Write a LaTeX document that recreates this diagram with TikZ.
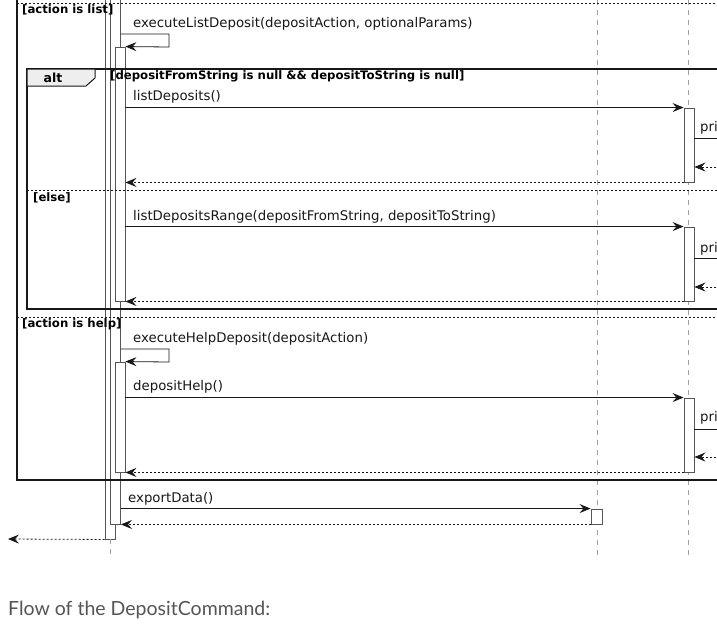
\documentclass[tikz,border=0pt]{standalone}
\usepackage{fontspec}
\newfontfamily\umlfont{DejaVu Sans}
\newfontfamily\notefont{Lato}
\usetikzlibrary{arrows.meta}

\definecolor{umlline}{HTML}{181818}
\definecolor{umlbar}{HTML}{555555}
\definecolor{umllife}{HTML}{A0A0A0}
\definecolor{umltab}{HTML}{EEEEEE}
\definecolor{notegray}{HTML}{555555}

\tikzset{
  actbar/.style={draw=umlbar, fill=white, line width=0.9pt, minimum width=10pt, inner sep=0pt},
  lifeline/.style={umllife, line width=0.8pt, dash pattern=on 5pt off 5pt},
  msg/.style={umlline, line width=0.8pt, -{Stealth[length=11pt,width=9pt,inset=4pt]}},
  ret/.style={msg, dash pattern=on 2pt off 2pt},
  plainmsg/.style={umlline, line width=0.8pt},
  frameline/.style={umlline, line width=1.4pt},
  guardline/.style={umlline, line width=0.7pt, dash pattern=on 2pt off 2pt},
  msglabel/.style={anchor=west, inner sep=0pt, text=umlline, font=\umlfont\fontsize{13.3}{15}\selectfont},
  guard/.style={anchor=west, inner sep=0pt, font=\umlfont\bfseries\fontsize{11.7}{14}\selectfont},
}

\begin{document}
\begin{tikzpicture}[x=1pt, y=-1pt]
    \useasboundingbox[fill=white] (0,0) rectangle (717,641);

    % lifelines
    \coordinate (exportTop) at (597,0);
    \coordinate (exportEnd) at (597,557);
    \coordinate (listTop) at (688,0);
    \coordinate (listEnd) at (688,557);
    \coordinate (mainEnd) at (110,559);
    \draw[lifeline] (exportTop) -- (exportEnd);
    \draw[lifeline] (listTop) -- (listEnd);

    % activation bars
    \node[actbar, minimum height=549pt] (barA) at (110,264.5) {};
    \node[actbar, minimum height=534pt] (barB) at (115.5,257) {};
    \node[actbar, minimum height=254pt] (barC) at (120,174) {};
    \node[actbar, minimum height=110pt] (barD) at (120,417) {};
    \node[actbar, minimum height=74pt] (barE) at (689,145) {};
    \node[actbar, minimum height=74pt] (barF) at (689,264) {};
    \node[actbar, minimum height=74pt] (barG) at (689,435) {};
    \node[actbar, minimum width=11pt, minimum height=15pt] (barH) at (596.5,516.5) {};
    \draw[lifeline] (barA.south) -- (mainEnd);

    % frames
    \draw[frameline] (17,-5) -- (17,480) -- (720,480);
    \draw[guardline] (17,3) -- (720,3);
    \draw[frameline] (720,69) -- (27,69) -- (27,309) -- (720,309);
    \filldraw[fill=umltab, draw=umlline, line width=1pt] (27,69) -- (95,69) -- (95,78) -- (86,86) -- (27,86) -- cycle;
    \node[font=\umlfont\bfseries\fontsize{12.5}{14}\selectfont] (altTag) at (53,77.5) {alt};
    \draw[guardline] (27,190) -- (720,190);
    \draw[guardline] (17,317.5) -- (720,317.5);

    \node[guard] (listGuard) at (22,10) {[action is list]};
    \node[guard] (altGuard) at (110,76) {[depositFromString is null \&\& depositToString is null]};
    \node[guard] (elseGuard) at (33,198) {[else]};
    \node[guard] (helpGuard) at (22,324) {[action is help]};

    % action is list
    \node[msglabel] (execList) at (133,24) {executeListDeposit(depositAction, optionalParams)};
    \draw[msg] (barB.east |- 0,34) -- (169,34) -- (169,47) -- (barC.north east);

    \node[msglabel] (listDeps) at (133,97) {listDeposits()};
    \draw[msg] (barC.east |- barE.north) -- (barE.north west);
    \coordinate (priE) at (720,138);
    \coordinate (backE) at (720,167);
    \node[msglabel] (priLabelE) at (700,128) {pri};
    \draw[plainmsg] (barE.east |- priE) -- (priE);
    \draw[ret] (backE) -- (barE.east |- backE);
    \draw[ret] (barE.south west) -- (barC.east |- barE.south);

    \node[msglabel] (listRange) at (133,217) {listDepositsRange(depositFromString, depositToString)};
    \draw[msg] (barC.east |- barF.north) -- (barF.north west);
    \coordinate (priF) at (720,258);
    \coordinate (backF) at (720,287);
    \node[msglabel] (priLabelF) at (700,249) {pri};
    \draw[plainmsg] (barF.east |- priF) -- (priF);
    \draw[ret] (backF) -- (barF.east |- backF);
    \draw[ret] (barF.south west) -- (barC.south east);

    % action is help
    \node[msglabel] (execHelp) at (133,339) {executeHelpDeposit(depositAction)};
    \draw[msg] (barB.east |- 0,349) -- (169,349) -- (169,362) -- (barD.north east);

    \node[msglabel] (depHelp) at (133,387) {depositHelp()};
    \draw[msg] (barD.east |- barG.north) -- (barG.north west);
    \coordinate (priG) at (720,429);
    \coordinate (backG) at (720,457);
    \node[msglabel] (priLabelG) at (700,418) {pri};
    \draw[plainmsg] (barG.east |- priG) -- (priG);
    \draw[ret] (backG) -- (barG.east |- backG);
    \draw[ret] (barG.south west) -- (barD.south east);

    % export
    \node[msglabel] (exportMsg) at (128,499) {exportData()};
    \draw[msg] (barB.east |- barH.north) -- (barH.north west);
    \draw[ret] (barH.south west) -- (barB.east |- barH.south);
    \coordinate (exitEnd) at (8,539);
    \draw[ret] (barA.south west) -- (exitEnd);

    \node[anchor=west, inner sep=0pt, text=notegray, font=\notefont\fontsize{19.5}{22}\selectfont] (caption) at (8,610) {Flow of the DepositCommand:};
\end{tikzpicture}
\end{document}
